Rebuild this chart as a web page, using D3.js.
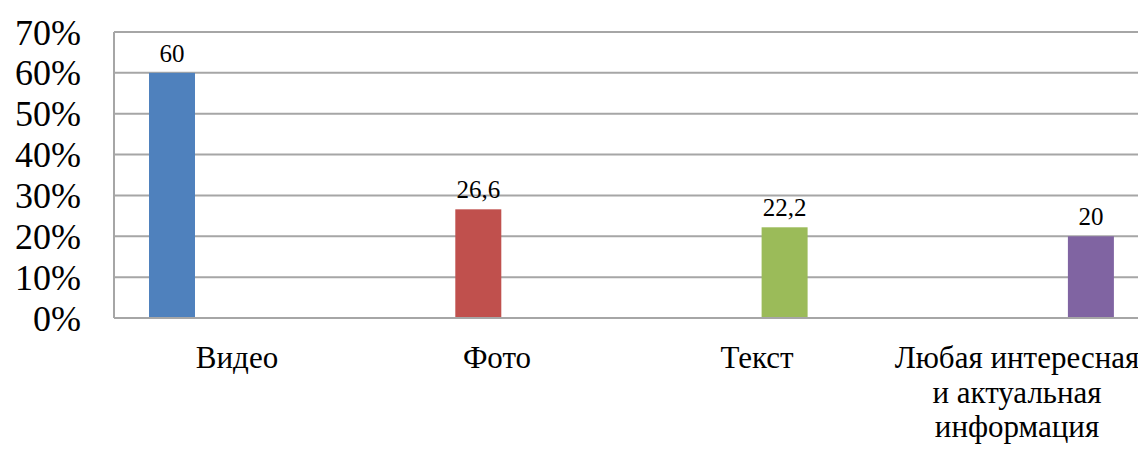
<!DOCTYPE html>
<html>
<head>
<meta charset="utf-8">
<script src="https://cdn.jsdelivr.net/npm/d3@7"></script>
<style>
	body { margin: 0; background: #fff; }
</style>
</head>
<body>
<div id="chart-box"></div>
<script>
// DATA
const categories = ["Видео", "Фото", "Текст", "Любая интересная|и актуальная|информация"];
const values = [60, 26.6, 22.2, 20];
const valueLabels = ["60", "26,6", "22,2", "20"];
const colors = ["#4F81BD", "#C0504D", "#9BBB59", "#8064A2"];
const yTicks = [0, 10, 20, 30, 40, 50, 60, 70];


// SVG DIMENSIONS
const width = 1138;
const height = 450;
const svg = d3.select("#chart-box")
	.append("svg")
	.attr("width", width)
	.attr("height", height)
	.attr("font-family", "'Liberation Serif', 'Times New Roman', serif");

const plot = { left: 114, top: 32, bottom: 318, right: 1160 };


// SCALES
const y = d3.scaleLinear().domain([0, 70]).range([plot.bottom, plot.top]);

// bars sit at the left of each slot, labels are spread on their own band
const xBar = d3.scaleBand().domain(categories).range([149, 149 + 4 * 306.3]);
const xLabel = d3.scaleBand().domain(categories).range([107, 107 + 4 * 260]);
const barWidth = 46;


// GRID
svg.append("g")
	.selectAll("line")
	.data(yTicks.filter(d => d > 0))
	.enter()
	.append("line")
		.attr("x1", plot.left)
		.attr("x2", plot.right)
		.attr("y1", d => y(d))
		.attr("y2", d => y(d))
		.attr("stroke", "#a6a6a6")
		.attr("stroke-width", 2);

// left frame
svg.append("line")
	.attr("x1", plot.left).attr("x2", plot.left)
	.attr("y1", plot.top).attr("y2", plot.bottom)
	.attr("stroke", "#a6a6a6")
	.attr("stroke-width", 2);


// BARS
svg.append("g")
	.selectAll("rect")
	.data(values)
	.enter()
	.append("rect")
		.attr("x", (d, i) => xBar(categories[i]))
		.attr("y", d => y(d))
		.attr("width", barWidth)
		.attr("height", d => y(0) - y(d))
		.attr("fill", (d, i) => colors[i]);

// bottom axis line
svg.append("line")
	.attr("x1", plot.left).attr("x2", plot.right)
	.attr("y1", plot.bottom).attr("y2", plot.bottom)
	.attr("stroke", "#a6a6a6")
	.attr("stroke-width", 2);


// VALUE LABELS
svg.append("g")
	.selectAll("text")
	.data(values)
	.enter()
	.append("text")
		.attr("x", (d, i) => xBar(categories[i]) + barWidth / 2)
		.attr("y", d => y(d) - 11)
		.attr("text-anchor", "middle")
		.attr("font-size", 25)
		.attr("fill", "#000")
		.text((d, i) => valueLabels[i]);


// Y AXIS LABELS
svg.append("g")
	.selectAll("text")
	.data(yTicks)
	.enter()
	.append("text")
		.attr("x", 81)
		.attr("y", d => y(d))
		.attr("dy", "0.35em")
		.attr("text-anchor", "end")
		.attr("font-size", 36)
		.attr("fill", "#000")
		.text(d => d + "%");


// CATEGORY LABELS
const catText = svg.append("g")
	.selectAll("text")
	.data(categories)
	.enter()
	.append("text")
		.attr("x", d => xLabel(d) + xLabel.bandwidth() / 2)
		.attr("y", 368)
		.attr("text-anchor", "middle")
		.attr("font-size", 31)
		.attr("fill", "#000");

catText.selectAll("tspan")
	.data(d => d.split("|"))
	.enter()
	.append("tspan")
		.attr("x", function() { return d3.select(this.parentNode).attr("x"); })
		.attr("dy", (d, i) => i === 0 ? 0 : 34.5)
		.text(d => d);
</script>
</body>
</html>
